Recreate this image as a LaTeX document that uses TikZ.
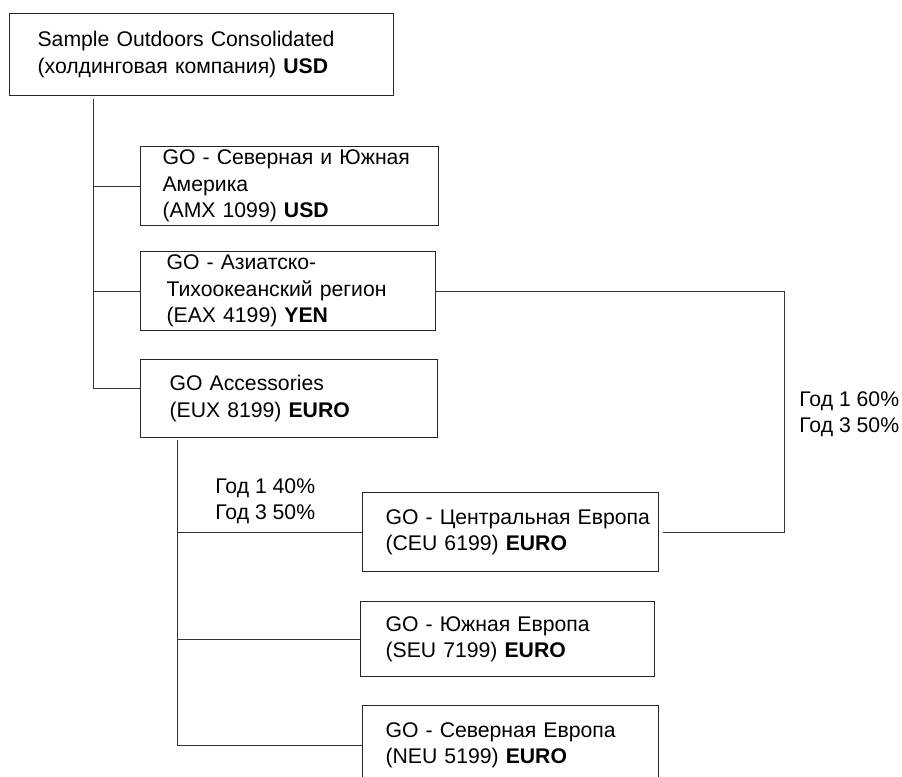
\documentclass[tikz,border=0pt]{standalone}
\usepackage{fontspec}
\setmainfont{Liberation Sans}
\usepackage{tikz}
\tikzstyle{unit}=[draw=black!85,line width=0.6pt,rectangle,anchor=north west,align=left,inner ysep=0pt,font=\fontsize{10.6pt}{13.25pt}\selectfont]
\tikzstyle{share label}=[anchor=west,align=left,inner sep=0pt,font=\fontsize{10.6pt}{13.25pt}\selectfont]
\tikzstyle{link}=[draw,black!80,line width=0.5pt]

\begin{document}
\begin{tikzpicture}[x=0.5pt,y=-0.5pt]
    % Page frame, the last box runs off the bottom
    \useasboundingbox (0,0) rectangle (902,777);
    \clip (0,0) rectangle (902,777);

    % First the holding and its three subsidiaries
    \node[unit,text width=164pt,inner xsep=14pt,minimum height=41pt] (hold) at (9,13) {Sample Outdoors Consolidated\\(холдинговая компания) \textbf{USD}};
    \node[unit,text width=127pt,inner xsep=11pt,minimum height=39.5pt] (amx) at (140,146) {GO - Северная и Южная\\Америка\\(AMX 1099) \textbf{USD}};
    \node[unit,text width=121.5pt,inner xsep=13pt,minimum height=39.5pt] (eax) at (140,251) {GO - Азиатско-\\Тихоокеанский регион\\(EAX 4199) \textbf{YEN}};
    \node[unit,text width=119.5pt,inner xsep=14.5pt,minimum height=39pt] (eux) at (140,359) {GO Accessories\\(EUX 8199) \textbf{EURO}};

    % Then the european companies
    \node[unit,text width=125pt,inner xsep=11.5pt,minimum height=39.5pt] (ceu) at (362,492) {\mbox{GO - Центральная Европа}\\(CEU 6199) \textbf{EURO}};
    \node[unit,text width=122pt,inner xsep=12.5pt,minimum height=37.5pt] (seu) at (360,601) {GO - Южная Европа\\(SEU 7199) \textbf{EURO}};
    \node[unit,text width=125pt,inner xsep=11.5pt,minimum height=39.5pt] (neu) at (362,705) {GO - Северная Европа\\(NEU 5199) \textbf{EURO}};

    % Connect the holding with its subsidiaries
    \coordinate (trunk1) at (93,99);
    \draw[link] (trunk1) |- ([yshift=5pt]eux.west);
    \foreach \dest in {amx,eax}
        \path[link] (\dest.west) -- (\dest.west -| trunk1);

    % The same for the european companies under GO Accessories
    \coordinate (trunk2) at (177,440);
    \draw[link] (trunk2) |- (neu.west);
    \foreach \dest in {ceu,seu}
        \path[link] (\dest.west) -- (\dest.west -| trunk2);

    % Central Europe is partly owned by the asian company too
    \coordinate (share) at (784,0);
    \draw[link] (eax.east) -- (eax.east -| share) -- (share |- ceu.east) -- ([xshift=2pt]ceu.east);

    % Shares of the two owners
    \node[share label] (accshare) at (215,501) {Год 1 40\%\\Год 3 50\%};
    \node[share label] (asiashare) at (799,414) {Год 1 60\%\\Год 3 50\%};
\end{tikzpicture}
\end{document}
